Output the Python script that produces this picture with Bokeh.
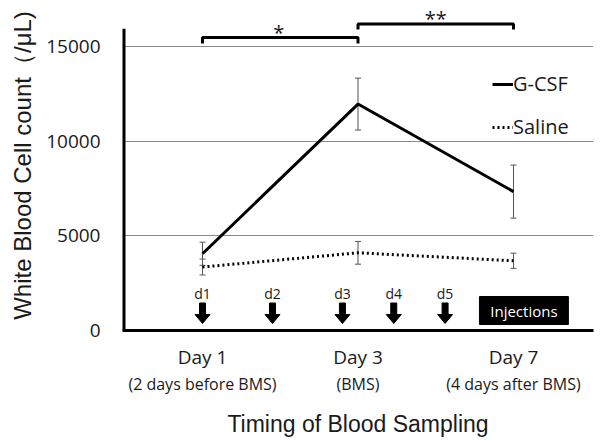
from bokeh.plotting import figure
from bokeh.models import (ColumnDataSource, FixedTicker, LinearAxis, Range1d,
                          Whisker, TeeHead, Legend, LegendItem)
from bokeh.core.properties import value
from bokeh.embed import file_html
from bokeh.resources import INLINE

# ---- data ----
days = ["Day 1", "Day 3", "Day 7"]
day_notes = ["(2 days before BMS)", "(BMS)", "(4 days after BMS)"]
day_pos = [0, 1, 2]
gcsf_mean = [4050, 11950, 7330]
gcsf_err = [610, 1370, 1400]
saline_mean = [3350, 4100, 3680]
saline_err = [420, 600, 400]
y_ticks = [0, 5000, 10000, 15000]

# annotations
inj_labels = ["d1", "d2", "d3", "d4", "d5"]
inj_x = [0.0, 0.45, 0.9, 1.23, 1.56]
sig_pairs = [(0, 1), (1, 2)]
sig_text = ["*", "**"]
sig_level = [15460, 16170]
sig_drop = [320, 290]

FONT = "Open Sans"
TFONT = "Liberation Sans"
X0, X1 = -0.5145, 2.5145

p = figure(width=600, height=442, output_backend="svg", toolbar_location=None,
           x_range=Range1d(X0, X1), y_range=Range1d(0, 17415),
           min_border_left=122, min_border_right=7, min_border_top=0,
           min_border_bottom=112)
p.outline_line_color = None
p.background_fill_color = "white"
p.border_fill_color = "white"

# grid
p.xgrid.grid_line_color = None
p.ygrid.ticker = FixedTicker(ticks=[5000, 10000, 15000])
p.ygrid.grid_line_color = "#8a8a8a"
p.ygrid.grid_line_width = 1

# y axis
ya = p.yaxis[0]
ya.ticker = FixedTicker(ticks=y_ticks)
ya.axis_line_color = None
ya.major_tick_line_color = None
ya.minor_tick_line_color = None
ya.major_tick_out = 0
ya.minor_tick_out = 0
ya.major_label_text_font = FONT
ya.major_label_text_font_size = "19px"
ya.major_label_text_color = "#1a1a1a"
ya.major_label_standoff = 22
ya.axis_label = "White Blood Cell count（/μL)"
ya.axis_label_text_font = TFONT
ya.axis_label_text_font_style = "normal"
ya.axis_label_text_font_size = "24px"
ya.axis_label_text_color = "#1a1a1a"
ya.axis_label_standoff = 7

# y axis line drawn only up to the top of tick range
p.segment(x0=[X0], y0=[0], x1=[X0], y1=[15930], line_color="black", line_width=6)

# x axis 1: day labels
xa = p.xaxis[0]
xa.ticker = FixedTicker(ticks=day_pos)
xa.major_label_overrides = {i: d for i, d in zip(day_pos, days)}
xa.axis_line_color = "black"
xa.axis_line_width = 3
xa.major_tick_line_color = None
xa.minor_tick_line_color = None
xa.major_tick_out = 0
xa.minor_tick_out = 0
xa.major_label_text_font = FONT
xa.major_label_text_font_size = "19px"
xa.major_label_text_color = "#1a1a1a"
xa.major_label_standoff = 13

# x axis 2: notes + title
xa2 = LinearAxis(ticker=FixedTicker(ticks=day_pos),
                 major_label_overrides={i: d for i, d in zip(day_pos, day_notes)})
xa2.axis_line_color = None
xa2.major_tick_line_color = None
xa2.minor_tick_line_color = None
xa2.major_tick_out = 0
xa2.minor_tick_out = 0
xa2.major_label_text_font = FONT
xa2.major_label_text_font_size = "16px"
xa2.major_label_text_color = "#1a1a1a"
xa2.major_label_standoff = 0
xa2.axis_label = "Timing of Blood Sampling"
xa2.axis_label_text_font = TFONT
xa2.axis_label_text_font_style = "normal"
xa2.axis_label_text_font_size = "23px"
xa2.axis_label_text_color = "#1a1a1a"
xa2.axis_label_standoff = 13
p.add_layout(xa2, "below")

# error bars
def add_whisker(mean, err):
    src = ColumnDataSource(dict(x=day_pos,
                                upper=[m + e for m, e in zip(mean, err)],
                                lower=[m - e for m, e in zip(mean, err)]))
    w = Whisker(source=src, base="x", upper="upper", lower="lower",
                line_color="#555555", line_width=1,
                upper_head=TeeHead(size=6, line_color="#555555", line_width=1),
                lower_head=TeeHead(size=6, line_color="#555555", line_width=1))
    p.add_layout(w)

add_whisker(gcsf_mean, gcsf_err)
add_whisker(saline_mean, saline_err)

# lines
r_g = p.line(day_pos, gcsf_mean, line_color="black", line_width=3)
r_s = p.line(day_pos, saline_mean, line_color="black", line_width=3, line_dash="2 3")

legend = Legend(items=[LegendItem(label="G-CSF", renderers=[r_g]),
                       LegendItem(label="Saline", renderers=[r_s])],
                location=(370, 190), glyph_width=21, glyph_height=24,
                label_height=24, label_standoff=0, spacing=16,
                padding=0, margin=0, border_line_color=None,
                background_fill_alpha=0,
                label_text_font=FONT, label_text_font_size="20px",
                label_text_color="#1a1a1a")
p.add_layout(legend)

# significance brackets
bx, by = [], []
for (a, b), lev, d in zip(sig_pairs, sig_level, sig_drop):
    bx.append([a, a, b, b])
    by.append([lev - d, lev, lev, lev - d])
p.multi_line(bx, by, line_color="black", line_width=3)
p.text(x=[0.49, 1.5], y=[15740, 16470], text=sig_text, text_font=value(FONT),
       text_font_size="20px", text_align="center", text_baseline="middle",
       text_color="#1a1a1a")

# injection arrows
px_to_y = 52.77
hw = 7.5 / 155.5
sw = 6 / 155.5
tip = (330 - 323) * px_to_y
head_top = (330 - 314) * px_to_y
shaft_top = (330 - 302.5) * px_to_y
p.vbar(x=inj_x, width=sw, bottom=head_top - 20, top=shaft_top, color="black")
p.patches(xs=[[x - hw, x + hw, x] for x in inj_x],
          ys=[[head_top, head_top, tip] for _ in inj_x], color="black")
p.text(x=inj_x, y=[(330 - 293) * px_to_y] * len(inj_x), text=inj_labels,
       text_font=value(FONT), text_font_size="14px", text_align="center",
       text_baseline="middle", text_color="#1a1a1a")

# Injections box
p.rect(x=[2.067], y=[1055], width=0.572, height=1480, color="black")
p.text(x=[2.067], y=[1055], text=["Injections"], text_font=value(FONT),
       text_font_size="15px", text_align="center", text_baseline="middle",
       text_color="white")

open("out.html", "w").write(file_html(p, INLINE))
